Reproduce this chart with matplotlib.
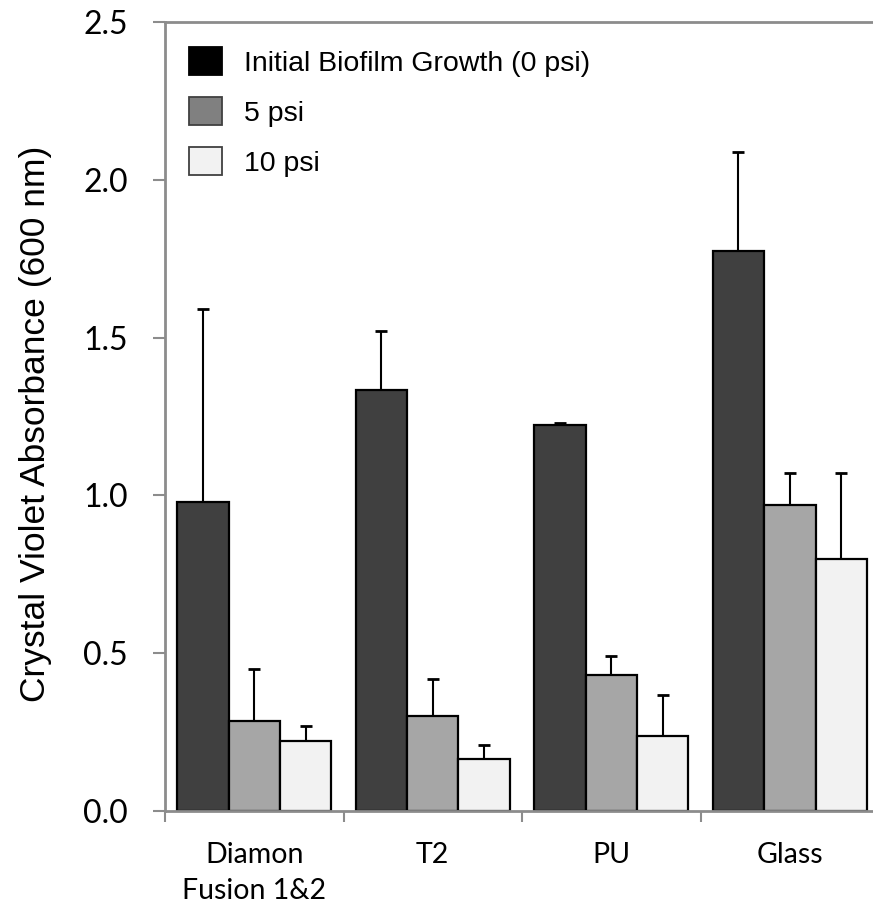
import numpy as np
import matplotlib.pyplot as plt
from matplotlib.patches import Patch

# crystal violet absorbance per surface, mean and upper error
surfaces = ["Diamon\nFusion 1&2", "T2", "PU", "Glass"]
series = ["Initial Biofilm Growth (0 psi)", "5 psi", "10 psi"]
psi0 = [0.98, 1.335, 1.224, 1.774]
psi0_err = [0.61, 0.185, 0.006, 0.315]
psi5 = [0.286, 0.302, 0.431, 0.969]
psi5_err = [0.165, 0.115, 0.059, 0.103]
psi10 = [0.223, 0.164, 0.237, 0.798]
psi10_err = [0.048, 0.044, 0.130, 0.274]

bar_colors = ["#404040", "#a6a6a6", "#f2f2f2"]
legend_colors = ["#000000", "#808080", "#f2f2f2"]
legend_edges = ["#000000", "#404040", "#404040"]
axis_gray = "#8c8c8c"

fig = plt.figure(figsize=(8.73, 9.07), dpi=100)
ax = fig.add_axes([0.189, 0.1058, 0.818, 0.870])

x = np.arange(len(surfaces))
w = 0.288
for i, (vals, errs) in enumerate([(psi0, psi0_err), (psi5, psi5_err), (psi10, psi10_err)]):
    ax.bar(x + (i - 1) * w, vals, w, color=bar_colors[i], edgecolor="black",
           linewidth=1.6, zorder=2)
    ax.errorbar(x + (i - 1) * w, vals, yerr=[np.zeros(len(vals)), errs],
                fmt="none", ecolor="black", elinewidth=1.5, capsize=4,
                capthick=2, zorder=1)

ax.set_xlim(-0.5, 3.5)
ax.set_ylim(0, 2.5)
yt = np.arange(0, 2.51, 0.5)
ax.set_yticks(yt)
ax.set_yticklabels([f"{v:.1f}" for v in yt], fontsize=23, family="Lato")
ax.set_xticks(np.arange(-0.5, 3.6, 1.0))
ax.set_xticklabels([])
ax.tick_params(axis="y", length=8.5, width=1.5, color=axis_gray, direction="out", pad=18)
ax.tick_params(axis="x", length=8, width=1.5, color=axis_gray, direction="out")

for s in ["left", "bottom", "top"]:
    ax.spines[s].set_color(axis_gray)
    ax.spines[s].set_linewidth(2)
ax.spines["right"].set_visible(False)

# category names sit under each group, between the boundary ticks
for xi, name in zip(x, surfaces):
    ax.text(xi, -0.097, name, ha="center", va="top", fontsize=20.5,
            family="Lato", linespacing=1.5)

ax.set_ylabel("Crystal Violet Absorbance (600 nm)", fontsize=25.5,
              family="Liberation Sans")
ax.yaxis.set_label_coords(-0.158, 0.4905)

handles = [Patch(facecolor=c, edgecolor=e, linewidth=1.3)
           for c, e in zip(legend_colors, legend_edges)]
ax.legend(handles, series, loc="upper left", bbox_to_anchor=(0.034, 0.968),
          frameon=False, prop={"family": "Liberation Sans", "size": 20.5},
          handlelength=1.16, handleheight=1.12, labelspacing=0.72,
          handletextpad=0.75, borderpad=0, borderaxespad=0)

fig.savefig("out.png", dpi=100)
